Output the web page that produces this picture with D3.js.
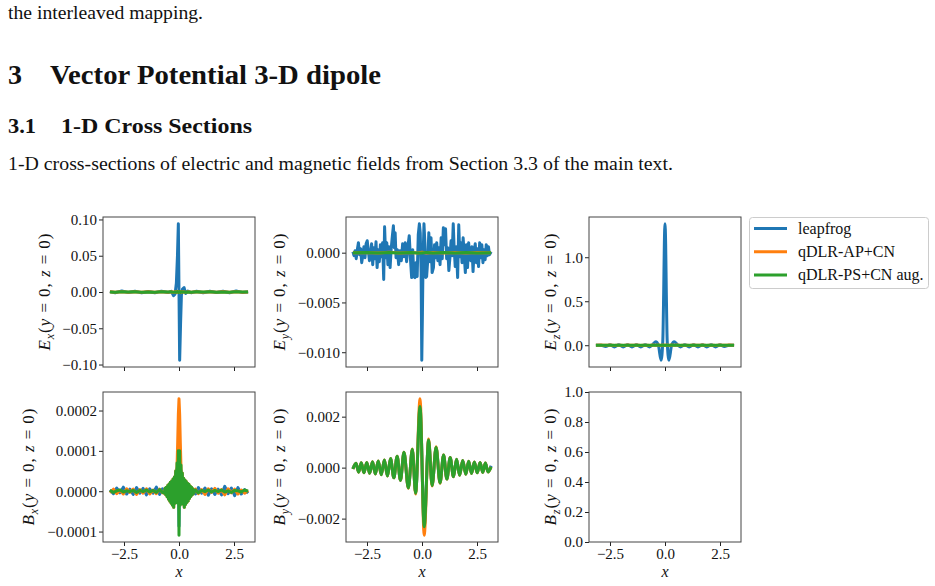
<!DOCTYPE html>
<html>
<head>
<meta charset="utf-8">
<script src="https://cdn.jsdelivr.net/npm/d3@7"></script>
<style>
  body { margin: 0; background: #fff; }
  svg { display: block; }
  text { font-family: "Liberation Serif", "Times New Roman", serif; fill: #111; white-space: pre; }
</style>
</head>
<body>
<svg id="page"></svg>
<script>
// *********************************************
// DATA
// *********************************************
var seriesNames = ["leapfrog", "qDLR-AP+CN", "qDLR-PS+CN aug."];
var seriesColors = ["#1f77b4", "#ff7f0e", "#2ca02c"];
var xTicks = [-2.5, 0, 2.5];

// E_x
var exX = [-3.14, -2.9, -2.6, -2.3, -2.0, -1.7, -1.4, -1.1, -0.8, -0.5, -0.35, -0.25, -0.18, -0.12, -0.07, -0.03,
           0.03, 0.07, 0.11, 0.16, 0.23, 0.3, 0.4, 0.55, 0.8, 1.1, 1.4, 1.7, 2.0, 2.3, 2.6, 2.9, 3.14];
var exLeap = [0.0005, -0.001, 0.0015, -0.0008, 0.001, -0.0012, 0.0008, -0.001, 0.0012, -0.0008,
              0.001, -0.005, -0.003, 0.012, 0.05, 0.094, -0.094, -0.045, -0.004, 0.004,
              0.006, -0.002, 0.0012, -0.001, 0.001, -0.0012, 0.001, -0.0008, 0.0012, -0.001,
              0.0015, -0.0008, 0.0003];
var exAP = [0.0002, -0.0003, 0.0004, -0.0002, 0.0003, -0.0004, 0.0002, -0.0003, 0.0004, -0.0002,
            0.0003, -0.0006, 0.0004, -0.0005, 0.0008, -0.0006, 0.0007, -0.0008, 0.0005, -0.0004,
            0.0003, -0.0005, 0.0002, -0.0003, 0.0004, -0.0002, 0.0003, -0.0004, 0.0002, -0.0003,
            0.0004, -0.0002, 0.0001];
var exPS = [0.0001, -0.0002, 0.0003, -0.0001, 0.0002, -0.0003, 0.0001, -0.0002, 0.0003, -0.0001,
            0.0002, -0.0005, 0.0003, -0.0004, 0.0006, -0.0005, 0.0006, -0.0007, 0.0004, -0.0003,
            0.0002, -0.0004, 0.0001, -0.0002, 0.0003, -0.0001, 0.0002, -0.0003, 0.0001, -0.0002,
            0.0003, -0.0001, 0.0];
var exTicks = [-0.10, -0.05, 0, 0.05, 0.10];

// E_y
var eyLeap = [
  [-3.14, 0.0001], [-3.09, -0.0003], [-3.04, 0.0002], [-2.99, -0.0006], [-2.94, 0.0003], [-2.89, 0.0010],
  [-2.84, -0.0002], [-2.79, 0.0004], [-2.74, -0.0010], [-2.69, -0.0003], [-2.64, 0.0006], [-2.59, -0.0005],
  [-2.54, 0.0009], [-2.49, 0.0012], [-2.44, 0.0002], [-2.39, -0.0008], [-2.34, -0.0002], [-2.29, 0.0009],
  [-2.24, -0.0012], [-2.19, 0.0005], [-2.14, -0.0006], [-2.09, 0.0011], [-2.04, -0.0015], [-1.99, 0.0003],
  [-1.94, -0.0009], [-1.89, 0.0008], [-1.84, -0.0004], [-1.79, 0.0010], [-1.74, -0.0027], [-1.70, 0.0026],
  [-1.65, -0.0005], [-1.60, 0.0010], [-1.55, -0.0012], [-1.50, 0.0006], [-1.45, -0.0015], [-1.40, 0.0004],
  [-1.35, 0.0016], [-1.30, 0.0027], [-1.26, 0.0005], [-1.22, 0.0020], [-1.18, -0.0005], [-1.12, 0.0003],
  [-1.06, -0.0012], [-1.00, 0.0002], [-0.94, -0.0008], [-0.88, 0.0009], [-0.82, -0.0004], [-0.76, 0.0010],
  [-0.70, -0.0009], [-0.64, 0.0006], [-0.58, 0.0017], [-0.52, -0.0008], [-0.47, -0.0025], [-0.42, 0.0003],
  [-0.37, -0.0024], [-0.32, -0.0025], [-0.27, -0.0010], [-0.22, -0.0024], [-0.17, 0.0018], [-0.12, 0.0029],
  [-0.08, 0.0020], [-0.04, -0.0020], [-0.01, -0.0108], [0.02, -0.0060], [0.05, -0.0005], [0.09, 0.0029],
  [0.13, 0.0010], [0.17, -0.0025], [0.21, -0.0024], [0.26, -0.0008], [0.31, 0.0020], [0.36, -0.0009],
  [0.41, 0.0015], [0.46, -0.0020], [0.52, -0.0015], [0.57, 0.0008], [0.62, -0.0005], [0.67, 0.0010],
  [0.72, -0.0008], [0.77, 0.0005], [0.82, -0.0012], [0.87, 0.0015], [0.92, -0.0006], [0.97, 0.0025],
  [1.02, 0.0008], [1.07, 0.0024], [1.12, -0.0006], [1.17, 0.0005], [1.22, -0.0018], [1.27, -0.0005],
  [1.32, 0.0012], [1.37, -0.0003], [1.42, 0.0029], [1.46, 0.0005], [1.51, -0.0014], [1.56, 0.0006],
  [1.62, -0.0025], [1.67, 0.0028], [1.72, -0.0004], [1.77, 0.0010], [1.82, -0.0010], [1.87, 0.0015],
  [1.92, -0.0003], [1.97, -0.0020], [2.02, 0.0008], [2.07, -0.0015], [2.12, 0.0010], [2.17, -0.0005],
  [2.22, -0.0008], [2.27, 0.0006], [2.32, -0.0019], [2.37, 0.0002], [2.42, 0.0009], [2.47, -0.0010],
  [2.52, 0.0004], [2.57, -0.0014], [2.62, 0.0010], [2.67, -0.0005], [2.72, 0.0008], [2.77, -0.0010],
  [2.82, 0.0003], [2.87, -0.0007], [2.92, 0.0008], [2.97, -0.0003], [3.02, 0.0006], [3.07, -0.0002],
  [3.14, 0.0001]
];
var eyX = [-3.14, -2.5, -2.0, -1.5, -1.0, -0.5, -0.2, 0, 0.2, 0.5, 1.0, 1.5, 2.0, 2.5, 3.14];
var eyAP = [0, 0.00003, -0.00002, 0.00004, -0.00003, 0.00002, -0.00004, 0.00005, -0.00003, 0.00002, -0.00004, 0.00003, -0.00002, 0.00003, 0];
var eyPS = [0, 0.00002, -0.00003, 0.00002, -0.00002, 0.00003, -0.00002, -0.00004, 0.00003, -0.00002, 0.00002, -0.00003, 0.00002, -0.00002, 0];
var eyTicks = [-0.010, -0.005, 0];

// E_z
var ezX = [-3.14, -2.9, -2.7, -2.5, -2.3, -2.1, -1.9, -1.7, -1.5, -1.3,
           -1.1, -0.9, -0.7, -0.55, -0.42, -0.3, -0.18, -0.1, -0.06, -0.03,
           0,
           0.03, 0.06, 0.1, 0.18, 0.3, 0.42, 0.55, 0.7, 0.9, 1.1,
           1.3, 1.5, 1.7, 1.9, 2.1, 2.3, 2.5, 2.7, 2.9, 3.14];
var ezLeap = [0, 0.0, -0.015, 0.005, -0.02, 0.005, -0.02, 0.005, -0.02, 0.005,
              -0.02, 0.005, -0.02, 0.01, 0.04, 0.0, -0.17, 0.05, 0.6, 1.15,
              1.38,
              1.15, 0.6, 0.05, -0.17, 0.0, 0.04, 0.01, -0.02, 0.005, -0.02,
              0.005, -0.02, 0.005, -0.02, 0.005, -0.02, 0.005, -0.015, 0.0, 0];
var ezAP = [0, 0.002, -0.001, 0.002, -0.002, 0.001, -0.002, 0.002, -0.001, 0.002,
            -0.002, 0.001, -0.002, 0.002, -0.001, 0.003, -0.002, 0.002, -0.001, 0.002,
            -0.003,
            0.002, -0.001, 0.002, -0.002, 0.003, -0.001, 0.002, -0.002, 0.001, -0.002,
            0.002, -0.001, 0.002, -0.002, 0.001, -0.002, 0.002, -0.001, 0.002, 0];
var ezPS = [0, 0.001, -0.001, 0.001, -0.001, 0.001, -0.001, 0.001, -0.001, 0.001,
            -0.001, 0.001, -0.001, 0.001, -0.001, 0.002, -0.001, 0.001, -0.001, 0.001,
            -0.002,
            0.001, -0.001, 0.001, -0.001, 0.002, -0.001, 0.001, -0.001, 0.001, -0.001,
            0.001, -0.001, 0.001, -0.001, 0.001, -0.001, 0.001, -0.001, 0.001, 0];
var ezTicks = [0, 0.5, 1.0];

// B_x
var bxX = [-3.14, -2.98, -2.83, -2.68, -2.53, -2.38, -2.23, -2.08, -1.93, -1.78, -1.63, -1.48, -1.33, -1.18, -1.03, -0.88, -0.75,
           -0.66, -0.63, -0.60, -0.57, -0.54, -0.51, -0.48, -0.45, -0.42, -0.39, -0.36, -0.33, -0.30, -0.27, -0.24, -0.21,
           -0.18, -0.15, -0.12, -0.09, -0.06, -0.03, 0, 0.03, 0.06, 0.09, 0.12, 0.15, 0.18,
           0.21, 0.24, 0.27, 0.30, 0.33, 0.36, 0.39, 0.42, 0.45, 0.48, 0.51, 0.54, 0.57, 0.60, 0.63, 0.66,
           0.75, 0.88, 1.03, 1.18, 1.33, 1.48, 1.63, 1.78, 1.93, 2.08, 2.23, 2.38, 2.53, 2.68, 2.83, 2.98, 3.14];
var bxLeap = [0.3e-5, -0.6e-5, 0.8e-5, -0.4e-5, 1.0e-5, -0.7e-5, 0.5e-5, -0.8e-5, 0.9e-5, -0.5e-5, 0.7e-5, -0.9e-5, 0.6e-5, -0.5e-5, 1.0e-5, -0.8e-5, 0.6e-5,
              -0.4e-5, 0.6e-5, -0.7e-5, 0.8e-5, -1.1e-5, 1.1e-5, -1.6e-5, 1.4e-5, -2.0e-5, 1.8e-5, -2.4e-5, 2.0e-5, -2.8e-5, 2.4e-5, -3.2e-5, 2.8e-5,
              -2.4e-5, 4.0e-5, -1.6e-5, 5.6e-5, -2.4e-5, 8.0e-5, -8.7e-5, 8.0e-5, -2.8e-5, 5.2e-5, -2.0e-5, 3.6e-5, -2.6e-5,
              2.6e-5, -3.2e-5, 2.2e-5, -2.6e-5, 1.9e-5, -2.2e-5, 1.6e-5, -1.9e-5, 1.4e-5, -1.4e-5, 1.0e-5, -1.0e-5, 0.8e-5, -0.7e-5, 0.5e-5, -0.4e-5,
              -0.7e-5, 0.9e-5, -0.5e-5, 0.8e-5, -1.0e-5, 0.6e-5, -0.8e-5, 0.5e-5, -0.9e-5, 1.2e-5, -0.6e-5, 0.8e-5, -1.1e-5, 0.9e-5, -0.7e-5, 0.4e-5, -0.5e-5];
var bxAP = [-0.4e-5, 0.5e-5, -0.6e-5, 0.3e-5, -0.7e-5, 0.6e-5, -0.3e-5, 0.5e-5, -0.8e-5, 0.4e-5, -0.5e-5, 0.6e-5, -0.7e-5, 0.3e-5, -0.6e-5, 0.5e-5, -0.4e-5,
            -0.5e-5, 0.7e-5, -0.9e-5, 1.0e-5, -1.4e-5, 1.4e-5, -2.0e-5, 1.8e-5, -2.5e-5, 2.2e-5, -3.0e-5, 2.5e-5, -3.5e-5, 3.0e-5, -4.0e-5, 3.5e-5,
            -3.0e-5, 5.0e-5, -2.0e-5, 6.0e-5, 12.0e-5, 19.0e-5, 22.9e-5, 19.0e-5, 12.0e-5, 6.0e-5, -2.5e-5, 4.5e-5, -3.2e-5,
            3.2e-5, -4.0e-5, 2.8e-5, -3.3e-5, 2.4e-5, -2.8e-5, 2.0e-5, -2.4e-5, 1.7e-5, -1.8e-5, 1.3e-5, -1.3e-5, 1.0e-5, -0.9e-5, 0.6e-5, -0.5e-5,
            0.5e-5, -0.6e-5, 0.4e-5, -0.8e-5, 0.6e-5, -0.3e-5, 0.7e-5, -0.5e-5, 0.4e-5, -0.9e-5, 0.6e-5, -0.4e-5, 0.5e-5, -0.7e-5, 0.3e-5, -0.5e-5, 0.2e-5];
var bxPS = [0.2e-5, -0.3e-5, 0.1e-5, 0.3e-5, -0.2e-5, 0.1e-5, -0.1e-5, 0.2e-5, -0.3e-5, 0.2e-5, -0.1e-5, 0.3e-5, -0.2e-5, 0.2e-5, -0.3e-5, 0.4e-5, -0.3e-5,
            -0.5e-5, 0.7e-5, -0.9e-5, 1.0e-5, -1.4e-5, 1.4e-5, -2.0e-5, 1.8e-5, -2.5e-5, 2.2e-5, -3.0e-5, 2.5e-5, -3.5e-5, 3.0e-5, -4.0e-5, 3.5e-5,
            -3.0e-5, 5.0e-5, -2.0e-5, 7.0e-5, -3.0e-5, 10.0e-5, -10.9e-5, 10.0e-5, -3.5e-5, 6.5e-5, -2.5e-5, 4.5e-5, -3.2e-5,
            3.2e-5, -4.0e-5, 2.8e-5, -3.3e-5, 2.4e-5, -2.8e-5, 2.0e-5, -2.4e-5, 1.7e-5, -1.8e-5, 1.3e-5, -1.3e-5, 1.0e-5, -0.9e-5, 0.6e-5, -0.5e-5,
            0.3e-5, -0.4e-5, 0.2e-5, -0.1e-5, 0.3e-5, -0.2e-5, 0.2e-5, -0.1e-5, 0.3e-5, -0.2e-5, 0.1e-5, -0.3e-5, 0.2e-5, 0.1e-5, -0.2e-5, 0.3e-5, 0.0];
var bxTicks = [-0.0001, 0, 0.0001, 0.0002];

// B_y
var byX = [-3.14, -3.0, -2.88, -2.76, -2.64, -2.51, -2.38, -2.25, -2.12, -1.99, -1.85, -1.71, -1.57, -1.43, -1.28, -1.13, -0.98, -0.82, -0.62, -0.44, -0.29, -0.09,
           0.1, 0.3, 0.46, 0.64, 0.82, 0.98, 1.13, 1.28, 1.43, 1.57, 1.71, 1.85, 1.99, 2.12, 2.25, 2.38, 2.51, 2.64, 2.76, 2.88, 3.0, 3.14];
var byLeap = [-0.4e-4, 1.6e-4, -1.7e-4, 1.8e-4, -1.9e-4, 1.9e-4, -2.1e-4, 2.2e-4, -2.4e-4, 2.5e-4, -2.7e-4, 2.9e-4, -3.2e-4, 3.5e-4, -3.9e-4, 4.4e-4, -4.9e-4, 5.8e-4, -7.8e-4, 7.0e-4, -9.8e-4, 23.5e-4,
              -22.8e-4, 10.5e-4, -6.8e-4, 7.8e-4, -5.8e-4, 4.9e-4, -4.4e-4, 3.9e-4, -3.5e-4, 3.2e-4, -2.9e-4, 2.7e-4, -2.5e-4, 2.4e-4, -2.2e-4, 2.1e-4, -1.9e-4, 1.9e-4, -1.8e-4, 1.7e-4, -1.6e-4, 0.7e-4];
var byAP = [-0.5e-4, 1.7e-4, -1.8e-4, 1.9e-4, -2.0e-4, 2.0e-4, -2.2e-4, 2.3e-4, -2.5e-4, 2.6e-4, -2.8e-4, 3.0e-4, -3.3e-4, 3.6e-4, -4.0e-4, 4.5e-4, -5.0e-4, 6.0e-4, -8.1e-4, 7.3e-4, -10.3e-4, 27.0e-4,
            -26.5e-4, 11.2e-4, -7.2e-4, 8.2e-4, -6.1e-4, 5.0e-4, -4.5e-4, 4.0e-4, -3.6e-4, 3.3e-4, -3.0e-4, 2.8e-4, -2.6e-4, 2.5e-4, -2.3e-4, 2.2e-4, -2.0e-4, 2.0e-4, -1.9e-4, 1.8e-4, -1.7e-4, 0.3e-4];
var byPS = [-0.5e-4, 1.7e-4, -1.8e-4, 1.9e-4, -2.0e-4, 2.0e-4, -2.2e-4, 2.3e-4, -2.5e-4, 2.6e-4, -2.8e-4, 3.0e-4, -3.3e-4, 3.6e-4, -4.0e-4, 4.5e-4, -5.0e-4, 6.0e-4, -8.0e-4, 7.2e-4, -10.0e-4, 24.0e-4,
            -23.2e-4, 10.8e-4, -7.0e-4, 8.0e-4, -6.0e-4, 5.0e-4, -4.5e-4, 4.0e-4, -3.6e-4, 3.3e-4, -3.0e-4, 2.8e-4, -2.6e-4, 2.5e-4, -2.3e-4, 2.2e-4, -2.0e-4, 2.0e-4, -1.9e-4, 1.8e-4, -1.7e-4, 0.3e-4];
var byTicks = [-0.002, 0, 0.002];

// B_z (empty axes)
var bzTicks = [0, 0.2, 0.4, 0.6, 0.8, 1.0];

// *********************************************
// PAGE SETUP
// *********************************************
var W = 935, H = 586;
var svg = d3.select("#page").attr("width", W).attr("height", H);
svg.append("rect").attr("width", W).attr("height", H).attr("fill", "#fff");

function pageText(str, x, y, size, weight, len) {
  svg.append("text")
      .attr("x", x).attr("y", y)
      .attr("font-size", size)
      .attr("font-weight", weight)
      .attr("textLength", len)
      .attr("lengthAdjust", "spacingAndGlyphs")
      .text(str);
}
pageText("the interleaved mapping.", 8, 19, 18.5, "normal", 195);
pageText("3", 8, 84, 28, "bold", 14);
pageText("Vector Potential 3-D dipole", 50, 84, 28, "bold", 331);
pageText("3.1", 8, 133, 22, "bold", 28);
pageText("1-D Cross Sections", 61, 133, 22, "bold", 191);
pageText("1-D cross-sections of electric and magnetic fields from Section 3.3 of the main text.", 8, 169.5, 18.5, "normal", 665);

// *********************************************
// PANELS
// *********************************************
var colX = [103, 346, 589], rowY = [217, 392];
var pw = 152, ph = 150;
var labelX = [[49.5, 284.5, 555.5], [34, 284.5, 555.5]];

function zipSeries(xs, ys) { return xs.map((d, i) => [d, ys[i]]); }

var panels = [
  {col: 0, row: 0, sym: "E", sub: "x", ticks: exTicks, fmt: ".2f", curve: d3.curveLinear,
   series: [zipSeries(exX, exLeap), zipSeries(exX, exAP), zipSeries(exX, exPS)]},
  {col: 1, row: 0, sym: "E", sub: "y", ticks: eyTicks, fmt: ".3f", curve: d3.curveLinear,
   series: [eyLeap, zipSeries(eyX, eyAP), zipSeries(eyX, eyPS)]},
  {col: 2, row: 0, sym: "E", sub: "z", ticks: ezTicks, fmt: ".1f", curve: d3.curveMonotoneX,
   series: [zipSeries(ezX, ezLeap), zipSeries(ezX, ezAP), zipSeries(ezX, ezPS)]},
  {col: 0, row: 1, sym: "B", sub: "x", ticks: bxTicks, fmt: ".4f", curve: d3.curveLinear,
   series: [zipSeries(bxX, bxLeap), zipSeries(bxX, bxAP), zipSeries(bxX, bxPS)]},
  {col: 1, row: 1, sym: "B", sub: "y", ticks: byTicks, fmt: ".3f", curve: d3.curveMonotoneX,
   series: [zipSeries(byX, byLeap), zipSeries(byX, byAP), zipSeries(byX, byPS)]},
  {col: 2, row: 1, sym: "B", sub: "z", ticks: bzTicks, fmt: ".1f", curve: d3.curveLinear,
   series: []}
];

// shared x scale, 5% margins like matplotlib
var allX = [];
panels.forEach(p => p.series.forEach(s => s.forEach(d => allX.push(d[0]))));
var xe = d3.extent(allX), xpad = (xe[1] - xe[0]) * 0.05;

panels.forEach(function(p) {
  var left = colX[p.col], top = rowY[p.row];
  var g = svg.append("g").attr("transform", "translate(" + left + "," + top + ")");

  var x = d3.scaleLinear().domain([xe[0] - xpad, xe[1] + xpad]).range([0, pw]);
  var ydom = [0, 1];
  if (p.series.length) {
    var ys = [];
    p.series.forEach(s => s.forEach(d => ys.push(d[1])));
    var ye = d3.extent(ys), ypad = (ye[1] - ye[0]) * 0.05;
    ydom = [ye[0] - ypad, ye[1] + ypad];
  }
  var y = d3.scaleLinear().domain(ydom).range([ph, 0]);

  var line = d3.line().x(d => x(d[0])).y(d => y(d[1])).curve(p.curve);
  p.series.forEach(function(s, i) {
    g.append("path")
        .attr("d", line(s))
        .attr("fill", "none")
        .attr("stroke", seriesColors[i])
        .attr("stroke-width", 3)
        .attr("stroke-linejoin", "round");
  });

  var ya = g.append("g")
      .call(d3.axisLeft(y).tickValues(p.ticks).tickFormat(d3.format(p.fmt)).tickSize(4).tickPadding(2));
  var xa = g.append("g").attr("transform", "translate(0," + ph + ")")
      .call(d3.axisBottom(x).tickValues(xTicks)
              .tickFormat(p.row == 1 ? d3.format(".1f") : "").tickSize(4).tickPadding(2.5));
  [ya, xa].forEach(function(a) {
    a.select(".domain").remove();
    a.attr("color", "#222").attr("font-size", 15)
     .attr("font-family", "'Liberation Serif', 'Times New Roman', serif");
  });

  g.append("rect")
      .attr("x", 0).attr("y", 0).attr("width", pw).attr("height", ph)
      .attr("fill", "none").attr("stroke", "#444").attr("stroke-width", 1);

  // y label
  var lab = svg.append("text")
      .attr("transform", "translate(" + labelX[p.row][p.col] + "," + (top + ph / 2) + ") rotate(-90)")
      .attr("text-anchor", "middle")
      .attr("font-size", 17)
      .attr("textLength", 117)
      .attr("lengthAdjust", "spacing");
  lab.append("tspan").attr("font-style", "italic").text(p.sym);
  lab.append("tspan").attr("font-style", "italic").attr("font-size", 12).attr("dy", 4).text(p.sub);
  lab.append("tspan").attr("dy", -4).text("(");
  lab.append("tspan").attr("font-style", "italic").text("y");
  lab.append("tspan").text(" = 0, ");
  lab.append("tspan").attr("font-style", "italic").text("z");
  lab.append("tspan").text(" = 0)");

  // x label
  if (p.row == 1) {
    svg.append("text")
        .attr("x", left + pw / 2).attr("y", 577)
        .attr("text-anchor", "middle")
        .attr("font-size", 16)
        .attr("font-style", "italic")
        .text("x");
  }
});

// *********************************************
// LEGEND
// *********************************************
var leg = svg.append("g").attr("transform", "translate(749.5,217.5)");
leg.append("rect")
    .attr("width", 179).attr("height", 71).attr("rx", 3)
    .attr("fill", "#fff").attr("stroke", "#ccc").attr("stroke-width", 1);
seriesNames.forEach(function(name, i) {
  var yy = 11 + i * 23.2;
  leg.append("line")
      .attr("x1", 4.5).attr("x2", 37.5).attr("y1", yy).attr("y2", yy)
      .attr("stroke", seriesColors[i]).attr("stroke-width", 3);
  leg.append("text")
      .attr("x", 48.5).attr("y", yy + 5)
      .attr("font-size", 16)
      .text(name);
});
</script>
</body>
</html>
